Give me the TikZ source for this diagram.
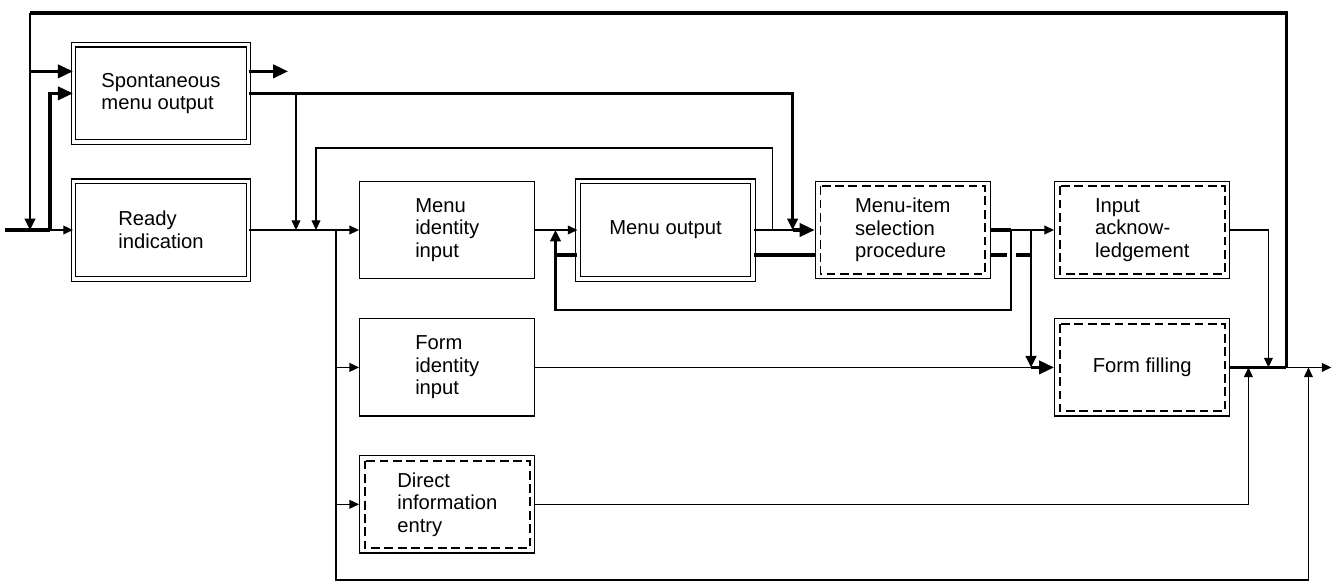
\documentclass[tikz,border=0pt]{standalone}
\usepackage{fontspec}
\setmainfont{Liberation Sans}
\usetikzlibrary{arrows.meta, positioning, calc}
\tikzset{
	blk/.style    ={rectangle, draw=black, line width=0.8pt, minimum width=3.5cm, minimum height=1.95cm, align=left, inner sep=2pt},
	dblk/.style   ={blk, double, double distance=2pt, line width=0.65pt},
	dashblk/.style={blk, path picture={\draw[line width=1pt, dash pattern=on 5pt off 2.6pt] ([shift={(2.9pt,-2.9pt)}]path picture bounding box.north west) rectangle ([shift={(-2.9pt,2.9pt)}]path picture bounding box.south east);}},
	sig/.style    ={-{Triangle[length=5.5pt, width=5pt]}, line width=0.7pt},
	msig/.style   ={-{Triangle[length=6.5pt, width=6pt]}, line width=1.5pt},
	bsig/.style   ={-{Triangle[length=8.5pt, width=7.5pt]}, line width=1.8pt},
	bline/.style  ={line width=1.8pt},
	tline/.style  ={line width=0.7pt},
}
\begin{document}
\begin{tikzpicture}[font=\fontsize{11.5pt}{12.8pt}\selectfont]
	\useasboundingbox (0,0) rectangle (26.78,-11.68);
	\node[dblk] (ready) at (3.22,-4.6) {Ready\\indication};
	\node[dblk, above=0.76cm of ready] (spont) {Spontaneous\\menu output};
	\node[blk, right=2.2cm of ready] (menuid) {Menu\\identity\\input};
	\node[dblk, right=0.84cm of menuid] (menuout) {Menu output};
	\node[dashblk, right=1.22cm of menuout] (itemsel) {Menu-item\\selection\\procedure};
	\node[dashblk, right=1.26cm of itemsel] (inack) {Input\\acknow-\\ledgement};
	\node[blk, below=0.77cm of menuid] (formid) {Form\\identity\\input};
	\node[dashblk, below=0.76cm of formid] (direct) {Direct\\information\\entry};
	\node[dashblk, below=0.77cm of inack] (formfill) {Form filling};
	\coordinate (in) at (0.1,-4.6); \coordinate (j1) at (1.0,-4.6); \coordinate (tl) at (0.6,-0.26);
	\coordinate (b1) at (5.92,-4.6); \coordinate (b2) at (6.32,-4.6); \coordinate (dj) at (6.72,-4.6);
	\coordinate (bl) at (6.72,-11.6);
	\coordinate (spup) at ($(spont.west)+(0,0.44)$); \coordinate (spfree) at ($(spont.east)+(0.78,0.44)$);
	\coordinate (m1) at ($(menuout.east)+(0.38,0)$); \coordinate (m2) at ($(menuout.east)+(0.78,0)$);
	\coordinate (lp) at ($(menuout.west)+(-0.44,0)$);
	\coordinate (s1) at ($(itemsel.east)+(0.4,0)$); \coordinate (s2) at ($(itemsel.east)+(0.8,0)$);
	\coordinate (jdir) at ($(formfill.east)+(0.36,0)$); \coordinate (jack) at ($(formfill.east)+(0.76,0)$);
	\coordinate (jout) at ($(formfill.east)+(1.12,0)$); \coordinate (jbot) at ($(formfill.east)+(1.56,0)$);
	\coordinate (outend) at ($(formfill.east)+(2.02,0)$);
	% input and spontaneous output
	\draw[bline] (in) -- (j1); \draw[sig] (j1) -- (ready.west);
	\draw[bsig] (j1) |- (spont.west);
	\draw[bline] (jout) |- (tl); \draw[msig] (tl) -- (tl |- in); \draw[bsig] (tl |- spup) -- (spup);
	\draw[bsig] ($(spont.east)+(0,0.44)$) -- (spfree);
	\draw[msig] (spont.east) -| (m2);
	\draw[sig] (b1 |- spont.east) -- (b1);
	\draw[sig] (m1) -- ++(0,1.64) -| (b2);
	% menu chain
	\draw[sig] (ready.east) -- (menuid.west);
	\draw[sig] (menuid.east) -- (menuout.west);
	\draw[tline] (menuout.east) -- (m2); \draw[bsig] (m2) -- (itemsel.west);
	\draw[bline] ($(menuout.east)+(0,-0.5)$) -- ($(itemsel.west)+(0,-0.5)$);
	\draw[bline] (itemsel.east) -- (s1); \draw[sig] (s1) -- (inack.west);
	\draw[msig] (s1) -- ++(0,-1.6) -| (lp);
	\draw[bline] ($(lp)+(0,-0.5)$) -- ($(menuout.west)+(0,-0.5)$);
	\draw[bline] ($(itemsel.east)+(0,-0.5)$) -- ($(s1)+(-0.09,-0.5)$);
	\draw[bline] ($(s1)+(0.09,-0.5)$) -- ($(s2)+(0,-0.5)$);
	\draw[tline] (s2) -- ($(s2)+(0,-0.5)$);
	\draw[msig] ($(s2)+(0,-0.5)$) -- (s2 |- formfill.west);
	\draw[bsig] (s2 |- formfill.west) -- (formfill.west);
	% forms and output
	\draw[sig] (dj |- formid.west) -- (formid.west);
	\draw[sig] (dj |- direct.west) -- (direct.west);
	\draw[tline] (formid.east) -- (s2 |- formfill.west);
	\draw[sig] (direct.east) -| (jdir);
	\draw[sig] (inack.east) -| (jack);
	\draw[sig] (dj) |- (jbot |- bl) -- (jbot);
	\draw[bline] (formfill.east) -- (jout); \draw[sig] (jout) -- (outend);
\end{tikzpicture}
\end{document}
